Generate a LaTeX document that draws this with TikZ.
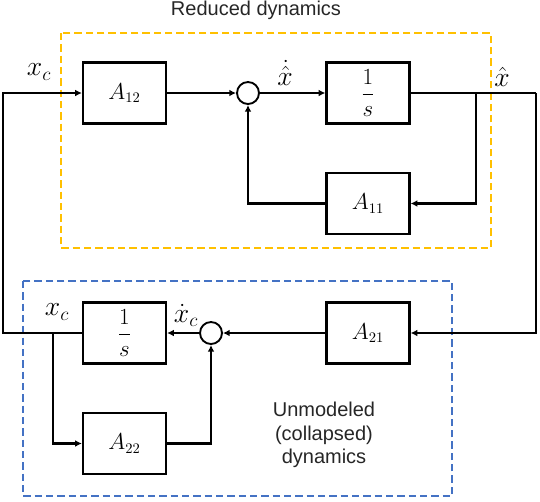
\documentclass[tikz,border=0pt]{standalone}
\usepackage{amsmath}
\usepackage{fontspec}
\setmainfont{Liberation Sans}
\usetikzlibrary{arrows.meta}

\definecolor{redgold}{HTML}{FFC000}
\definecolor{unmblue}{HTML}{4472C4}
\definecolor{txtgray}{HTML}{262626}

\tikzset{
  blk/.style={draw, line width=1.9pt, minimum width=62pt, minimum height=46pt,
    inner sep=0pt, font=\fontsize{16}{19}\selectfont},
  sumnode/.style={draw, circle, line width=1.4pt, minimum size=16.5pt, inner sep=0pt},
  wire/.style={line width=1.9pt},
  sig/.style={wire, -{Latex[length=5pt,width=5pt]}},
  lbl/.style={font=\fontsize{20}{22}\selectfont, inner sep=0pt},
  grp/.style={line width=1.7pt, dash pattern=on 5.5pt off 3pt},
}

\begin{document}
\begin{tikzpicture}[x=0.75pt, y=-0.75pt]
  \useasboundingbox (0,0) rectangle (540,501);

  % group frames
  \draw[grp, redgold] (61,33) rectangle (491,248);
  \draw[grp, unmblue] (23,281) rectangle (452,496);
  \node[font=\fontsize{15}{18}\selectfont, text=txtgray] (trd) at (256,10) {Reduced dynamics};
  \node[font=\fontsize{15}{17.5}\selectfont, text=txtgray, align=center] (tud) at (324,435)
    {Unmodeled\\(collapsed)\\dynamics};

  % blocks
  \node[blk] (a12) at (124.5,93) {$A_{12}$};
  \node[blk] (is1) at (368,93) {$\dfrac{1}{s}$};
  \node[blk] (a11) at (368,203.5) {$A_{11}$};
  \node[sumnode] (sum1) at (248,93) {};
  \node[blk] (is2) at (124.5,333) {$\dfrac{1}{s}$};
  \node[blk] (a21) at (368,333) {$A_{21}$};
  \node[blk] (a22) at (124.5,443.5) {$A_{22}$};
  \node[sumnode] (sum2) at (211,333) {};

  % corners and branch points
  \coordinate (lt) at (3,93);
  \coordinate (rt) at (536,93);
  \coordinate (br1) at (476,93);
  \coordinate (br2) at (53,333);

  % signals
  \draw[sig] (is2.west) -| (lt) -- (a12.west);
  \draw[sig] (a12) -- (sum1);
  \draw[sig] (sum1) -- (is1);
  \draw[wire] (is1.east) -- (rt);
  \draw[sig] (rt) |- (a21.east);
  \draw[sig] (br1) |- (a11.east);
  \draw[sig] (a11.west) -| (sum1.south);
  \draw[sig] (a21) -- (sum2);
  \draw[sig] (sum2) -- (is2);
  \draw[sig] (br2) |- (a22.west);
  \draw[sig] (a22.east) -| (sum2.south);

  % signal names
  \node[lbl] (lxc1) at (39,72) {$x_c$};
  \node[lbl] (lxd) at (285,73) {$\dot{\hat{x}}$};
  \node[lbl] (lxh) at (502,77) {$\hat{x}$};
  \node[lbl] (lxc2) at (57,312) {$x_c$};
  \node[lbl] (lxcd) at (186,315) {$\dot{x}_c$};
\end{tikzpicture}
\end{document}
